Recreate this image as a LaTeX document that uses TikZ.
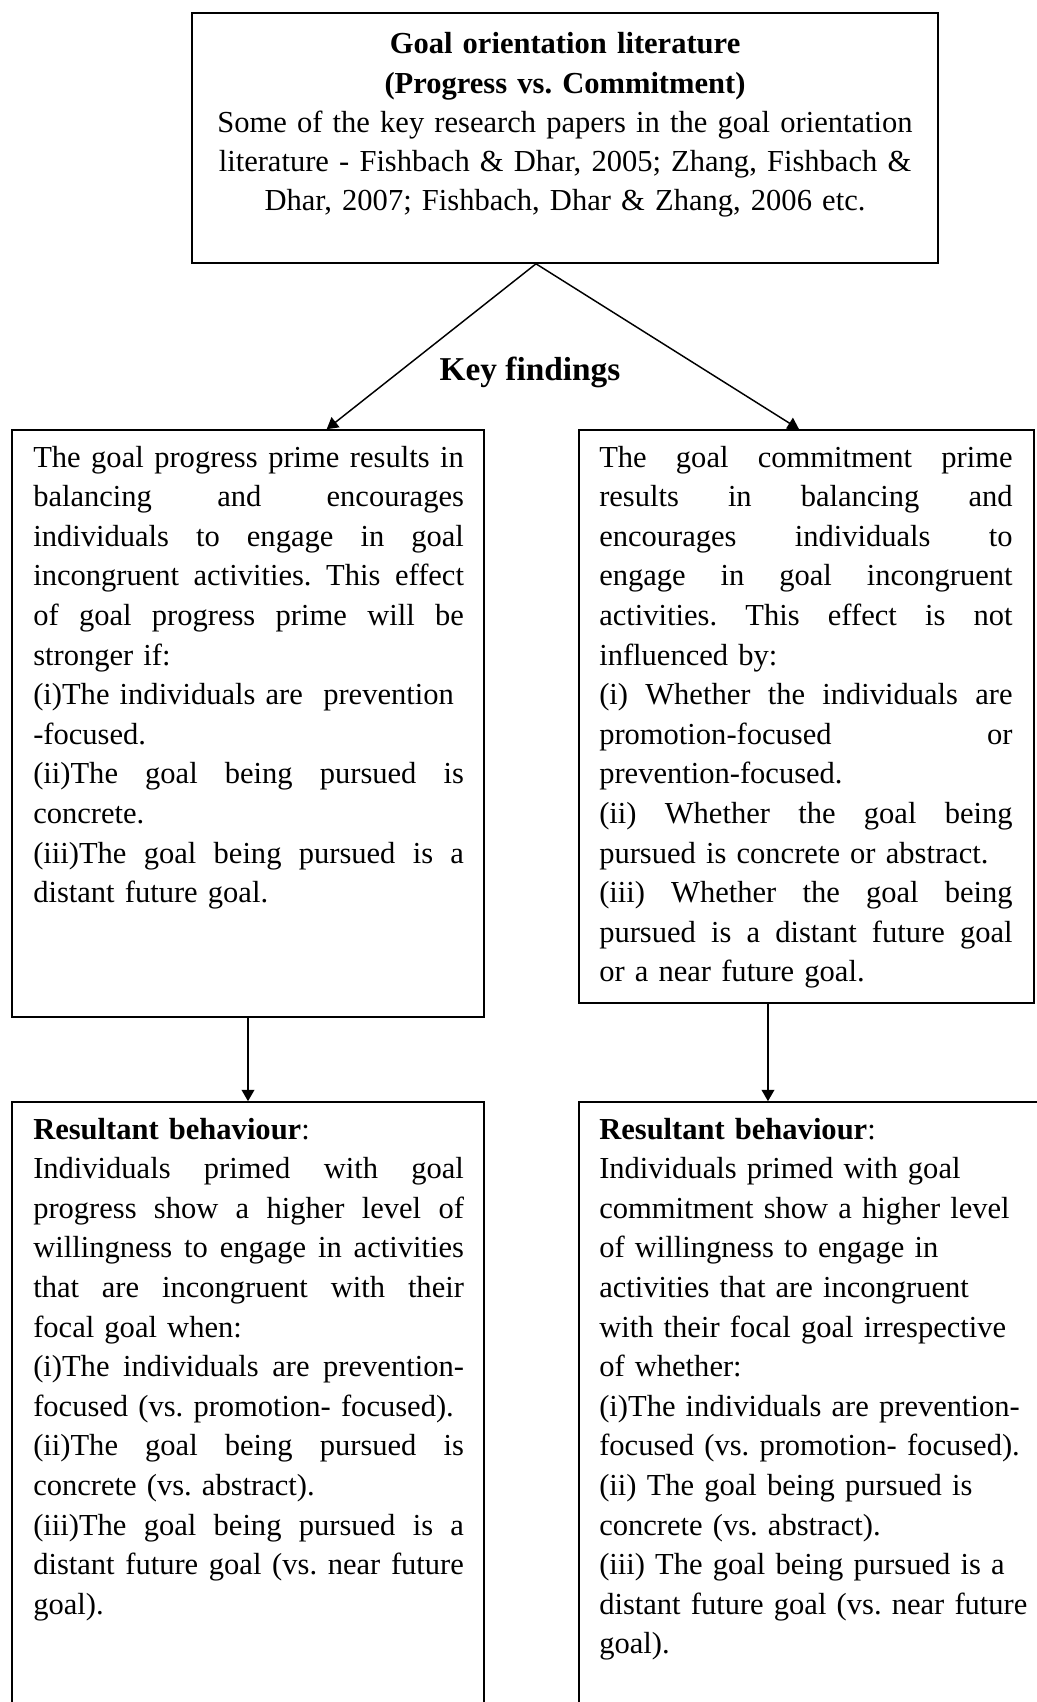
\documentclass[tikz,border=0pt]{standalone}
\usepackage{fontspec}
\setmainfont{Liberation Serif}
\usetikzlibrary{arrows.meta,fit}

% a single line spread out to the full column width
\newcommand{\spreadline}[2]{\leavevmode\hbox to #1{\spaceskip=0.25em plus 1fil minus 0.08em\relax
  \xspaceskip=\spaceskip #2}}
\newcommand{\jL}[1]{\spreadline{323pt}{#1}}
\newcommand{\jR}[1]{\spreadline{310pt}{#1}}

\begin{document}
\frenchspacing
\begin{tikzpicture}[x=0.75pt,y=-0.75pt,
  box/.style={draw, line width=1.2pt, inner sep=0pt},
  conn/.style={line width=1.1pt, -{Triangle[length=8.5pt,width=9.5pt]}},
  body/.style={inner sep=0pt, align=left, anchor=base west, text width=345pt,
    font=\fontsize{22.9}{29.7}\selectfont},
]
\useasboundingbox (0,0) rectangle (1037,1702);
\clip (0,0) rectangle (1037,1702);

% frames
\node[box, fit={(192,13)(938,263)}] (top) {};
\node[box, fit={(12,430)(484,1017)}] (lm) {};
\node[box, fit={(579,430)(1034,1003)}] (rm) {};
\node[box, fit={(12,1102)(484,1760)}] (lb) {};
\node[box, fit={(579,1102)(1060,1760)}] (rb) {};

% heading box text
\node[inner sep=0pt, anchor=base, align=center, text width=559pt,
      font=\fontsize{22.9}{29.4}\selectfont] (toptext) at (565,54)
  {\textbf{Goal orientation literature}\\
   \textbf{(Progress vs. Commitment)}\\
   Some of the key research papers in the goal orientation\\
   literature - Fishbach \& Dhar, 2005; Zhang, Fishbach \&\\
   Dhar, 2007; Fishbach, Dhar \& Zhang, 2006 etc.};

\node[inner sep=0pt, anchor=base, font=\bfseries\fontsize{25}{30}\selectfont]
  (kf) at (530,380) {Key findings};

% findings
\node[body] (lmt) at (33,467) {%
\jL{The goal progress prime results in}\\
\jL{balancing and encourages}\\
\jL{individuals to engage in goal}\\
\jL{incongruent activities. This effect}\\
\jL{of goal progress prime will be}\\
stronger if:\\
(i)The individuals are~ prevention\\
-focused.\\
\jL{(ii)The goal being pursued is}\\
concrete.\\
\jL{(iii)The goal being pursued is a}\\
distant future goal.};

\node[body] (rmt) at (599,467) {%
\jR{The goal commitment prime}\\
\jR{results in balancing and}\\
\jR{encourages individuals to}\\
\jR{engage in goal incongruent}\\
\jR{activities. This effect is not}\\
influenced by:\\
\jR{(i) Whether the individuals are}\\
\jR{promotion-focused or}\\
prevention-focused.\\
\jR{(ii) Whether the goal being}\\
pursued is concrete or abstract.\\
\jR{(iii) Whether the goal being}\\
\jR{pursued is a distant future goal}\\
or a near future goal.};

% resultant behaviour
\node[body] (lbt) at (33,1139) {%
\textbf{Resultant behaviour}:\\
\jL{Individuals primed with goal}\\
\jL{progress show a higher level of}\\
\jL{willingness to engage in activities}\\
\jL{that are incongruent with their}\\
focal goal when:\\
\jL{(i)The individuals are prevention-}\\
focused (vs. promotion- focused).\\
\jL{(ii)The goal being pursued is}\\
concrete (vs. abstract).\\
\jL{(iii)The goal being pursued is a}\\
\jL{distant future goal (vs. near future}\\
goal).};

\node[body] (rbt) at (599,1139) {%
\textbf{Resultant behaviour}:\\
Individuals primed with goal\\
commitment show a higher level\\
of willingness to engage in\\
activities that are incongruent\\
with their focal goal irrespective\\
of whether:\\
(i)The individuals are prevention-\\
focused (vs. promotion- focused).\\
(ii) The goal being pursued is\\
concrete (vs. abstract).\\
(iii) The goal being pursued is a\\
distant future goal (vs. near future\\
goal).};

% connectors
\draw[conn] ([xshift=-21.75pt]top.south) -- ([xshift=59pt]lm.north);
\draw[conn] ([xshift=-21.75pt]top.south) -- ([xshift=-5.6pt]rm.north);
\draw[conn] (lm.south) -- (lb.north);
\draw[conn] ([xshift=-28.9pt]rm.south) -- ([xshift=-28.9pt]rm.south |- rb.north);
\end{tikzpicture}
\end{document}
